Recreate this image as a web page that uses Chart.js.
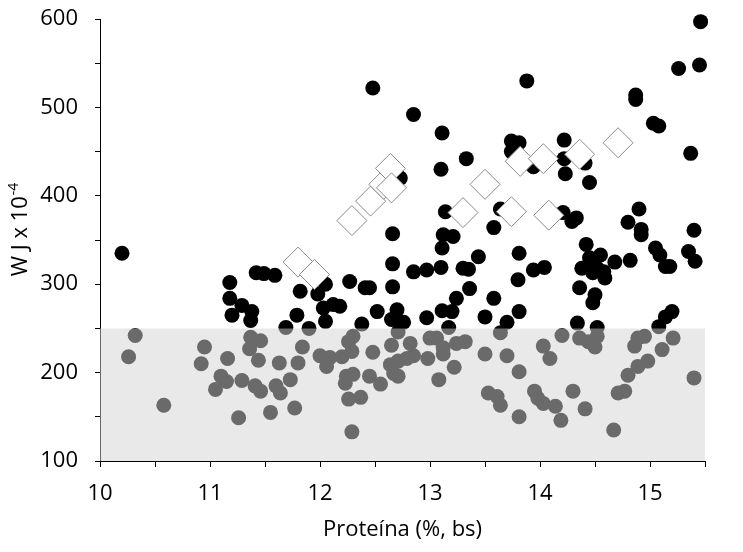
<!DOCTYPE html>
<html>
<head>
<meta charset="utf-8">
<script src="https://cdn.jsdelivr.net/npm/chart.js@4.4.1/dist/chart.umd.min.js"></script>
<style>
  html, body { margin: 0; padding: 0; background: #ffffff; }
  #wrap { width: 743px; height: 552px; }
</style>
</head>
<body>
<div id="wrap"><canvas id="c" width="743" height="552"></canvas></div>
<script>
// ---- data ----
// samples with W above the shaded limit
const upperX = [10.20,11.18,11.42,11.49,11.59,11.18,11.29,11.38,11.20,11.37,11.82,11.79,11.69,11.90,
  12.66,13.12,13.21,13.11,13.44,13.81,12.66,12.85,12.97,13.10,13.30,13.35,12.27,12.41,12.45,12.66,13.36,13.80,
  12.05,11.98,12.03,12.12,12.18,12.05,12.38,12.52,12.70,12.65,12.76,12.97,13.11,13.20,13.24,13.58,13.50,13.70,13.81,13.17,
  14.92,14.92,15.40,14.42,15.05,15.09,15.35,15.41,15.14,15.18,13.94,14.04,14.45,14.55,14.38,14.44,14.52,14.58,14.59,14.48,
  14.68,14.82,14.36,14.50,14.48,14.34,14.52,15.08,15.14,15.20,
  12.48,12.85,13.11,13.10,12.73,13.14,15.46,15.26,15.45,13.88,14.87,14.87,15.03,15.08,15.37,13.33,13.74,13.81,13.74,
  14.22,14.22,14.23,14.41,14.45,13.94,13.64,13.58,14.21,14.29,14.33,14.90,14.80];
const upperY = [335,302,313,312,310,284,276,269,265,259,292,265,251,250,
  357,356,354,341,331,335,323,314,316,319,318,317,303,296,296,297,295,305,
  300,289,273,277,275,258,255,269,271,260,257,262,270,269,284,284,263,257,269,251,
  362,356,361,345,341,333,337,326,320,320,316,319,330,333,318,320,318,314,307,313,
  325,327,296,288,279,256,251,252,263,269,
  522,492,471,430,420,382,597,544,548,530,514,509,482,479,448,442,462,460,450,
  463,442,425,437,415,433,385,364,381,371,375,385,370];
// samples with W below the shaded limit
const lowerX = [10.32,10.26,10.58,10.95,10.92,11.16,11.10,11.15,11.05,11.29,11.26,11.37,11.46,11.36,11.44,11.41,11.46,
  11.63,11.60,11.64,11.55,11.73,11.80,11.84,11.77,12.30,12.26,12.71,12.65,12.82,12.48,12.00,12.09,12.20,12.29,12.06,
  12.64,12.71,12.79,12.85,12.67,12.71,12.24,12.23,12.30,12.45,12.55,12.26,12.37,12.29,13.00,13.06,12.98,13.12,13.12,
  13.24,13.32,13.22,13.08,13.50,13.70,13.64,13.53,13.61,13.64,13.81,13.81,14.20,14.03,14.09,14.36,14.44,14.50,14.52,
  14.89,14.95,14.86,15.21,15.11,14.80,14.89,14.98,14.71,14.77,14.67,15.40,13.95,13.98,14.03,14.14,14.30,14.19,14.41];
const lowerY = [242,218,163,229,210,216,196,190,181,191,149,240,236,227,214,185,179,
  211,185,177,155,192,211,229,160,241,235,246,231,233,223,219,217,218,224,207,
  209,213,216,219,199,196,196,188,198,196,187,170,172,133,239,239,216,228,221,
  233,235,206,192,221,219,245,177,173,163,201,150,242,230,216,239,235,229,241,
  239,241,230,239,226,197,207,213,177,179,135,194,179,171,165,162,179,146,159];
// open diamonds
const diamondX = [11.80,11.95,12.29,12.46,12.58,12.64,12.65,13.30,13.50,13.74,13.82,14.03,14.08,14.36,14.71];
const diamondY = [325,311,372,394,413,431,409,381,413,382,439,442,378,447,460];
// shaded band limit and axes
const shadeLimit = 250;
const xRange = [10, 15.5];
const yRange = [100, 600];
const xLabelValues = [10, 11, 12, 13, 14, 15];
const yLabelValues = [100, 200, 300, 400, 500, 600];
const xTitle = 'Proteína (%, bs)';
const yTitleMain = 'W J x 10';
const yTitleSup = '-4';

// ---- build chart ----
const toPts = (xs, ys) => xs.map((x, i) => ({ x: x, y: ys[i] }));
const FONT = '"Open Sans", "Liberation Sans", sans-serif';

const yTitlePlugin = {
  id: 'yTitle',
  afterDraw(chart) {
    const ctx = chart.ctx;
    const area = chart.chartArea;
    ctx.save();
    ctx.fillStyle = '#000';
    ctx.textBaseline = 'alphabetic';
    ctx.textAlign = 'left';
    ctx.font = '22px ' + FONT;
    const w1 = ctx.measureText(yTitleMain).width;
    ctx.font = '14px ' + FONT;
    const w2 = ctx.measureText(yTitleSup).width;
    const total = w1 + w2;
    const cy = (area.top + area.bottom) / 2 - 10;
    ctx.translate(27, cy);
    ctx.rotate(-Math.PI / 2);
    ctx.font = '22px ' + FONT;
    ctx.fillText(yTitleMain, -total / 2, 0);
    ctx.font = '14px ' + FONT;
    ctx.fillText(yTitleSup, -total / 2 + w1 + 1, -9);
    ctx.restore();
  }
};

new Chart(document.getElementById('c'), {
  type: 'scatter',
  data: {
    datasets: [
      {
        label: 'band',
        type: 'line',
        data: [{ x: xRange[0], y: shadeLimit }, { x: xRange[1], y: shadeLimit }],
        fill: 'start',
        backgroundColor: 'rgba(212,212,212,0.5)',
        borderWidth: 0,
        borderColor: 'rgba(0,0,0,0)',
        pointRadius: 0,
        order: 0,
        clip: false
      },
      {
        label: 'diamonds',
        data: toPts(diamondX, diamondY),
        pointStyle: 'rectRot',
        pointRadius: 15,
        backgroundColor: '#ffffff',
        borderColor: '#8a8a8a',
        borderWidth: 1,
        order: 1,
        clip: false
      },
      {
        label: 'upper',
        data: toPts(upperX, upperY),
        pointRadius: 7.5,
        backgroundColor: '#000000',
        borderWidth: 0,
        order: 2,
        clip: false
      },
      {
        label: 'lower',
        data: toPts(lowerX, lowerY),
        pointRadius: 7.5,
        backgroundColor: '#000000',
        borderWidth: 0,
        order: 3,
        clip: false
      }
    ]
  },
  options: {
    responsive: false,
    animation: false,
    layout: { autoPadding: false, padding: { top: 19, right: 38, left: 0, bottom: 0 } },
    plugins: { legend: { display: false }, tooltip: { enabled: false } },
    scales: {
      x: {
        type: 'linear',
        min: xRange[0],
        max: xRange[1],
        afterFit: (s) => { s.height = 91; s.paddingLeft = 0; s.paddingRight = 0; },
        ticks: {
          stepSize: 0.5,
          autoSkip: false,
          maxRotation: 0,
          padding: 14,
          color: '#000',
          font: { family: FONT, size: 22 },
          callback: (v) => xLabelValues.includes(v) ? String(v) : ''
        },
        grid: { drawOnChartArea: false, drawTicks: true, tickLength: 6, color: '#000', lineWidth: 1 },
        border: { display: true, color: '#000', width: 1 },
        title: {
          display: true,
          text: xTitle,
          color: '#000',
          font: { family: FONT, size: 22 },
          padding: { top: 0, bottom: 9 }
        }
      },
      y: {
        type: 'linear',
        min: yRange[0],
        max: yRange[1],
        afterFit: (s) => { s.width = 100; s.paddingTop = 0; s.paddingBottom = 0; },
        ticks: {
          stepSize: 50,
          autoSkip: false,
          padding: 17,
          color: '#000',
          font: { family: FONT, size: 22 },
          callback: (v) => yLabelValues.includes(v) ? String(v) : ''
        },
        grid: { drawOnChartArea: false, drawTicks: true, tickLength: 5, color: '#000', lineWidth: 1 },
        border: { display: true, color: '#000', width: 1 }
      }
    }
  },
  plugins: [yTitlePlugin]
});
</script>
</body>
</html>
